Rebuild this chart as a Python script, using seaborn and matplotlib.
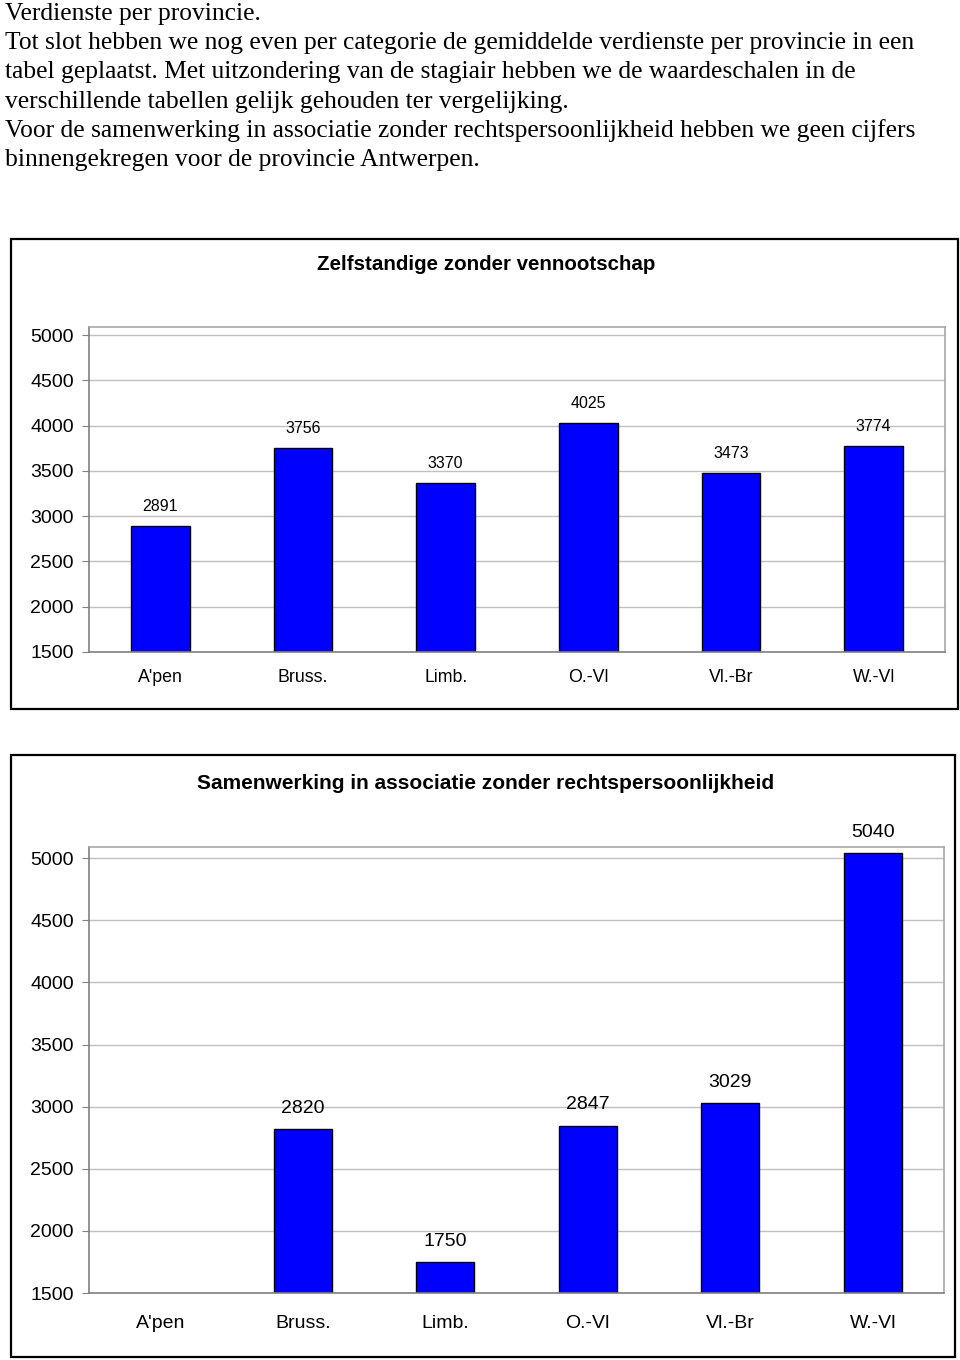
import numpy as np
import pandas as pd
import matplotlib
matplotlib.use("Agg")
import matplotlib.pyplot as plt
from matplotlib.patches import Rectangle
import seaborn as sns

# ---- data ----
provinces = ["A'pen", "Bruss.", "Limb.", "O.-Vl", "Vl.-Br", "W.-Vl"]
zelfstandige = [2891, 3756, 3370, 4025, 3473, 3774]
samenwerking = [np.nan, 2820, 1750, 2847, 3029, 5040]
yticks_vals = [1500, 2000, 2500, 3000, 3500, 4000, 4500, 5000]
title1 = "Zelfstandige zonder vennootschap"
title2 = "Samenwerking in associatie zonder rechtspersoonlijkheid"
intro_lines = [
    "Verdienste per provincie.",
    "Tot slot hebben we nog even per categorie de gemiddelde verdienste per provincie in een",
    "tabel geplaatst. Met uitzondering van de stagiair hebben we de waardeschalen in de",
    "verschillende tabellen gelijk gehouden ter vergelijking.",
    "Voor de samenwerking in associatie zonder rechtspersoonlijkheid hebben we geen cijfers",
    "binnengekregen voor de provincie Antwerpen.",
]

sns.set_style("white")
plt.rcParams["font.family"] = ["Liberation Sans", "DejaVu Sans"]
plt.rcParams["text.color"] = "black"
plt.rcParams["xtick.labelcolor"] = "black"
plt.rcParams["ytick.labelcolor"] = "black"

W, H = 960, 1360
fig = plt.figure(figsize=(W / 100, H / 100), dpi=100)

def fx(px):
    return px / W

def fy(py):
    return 1 - py / H

# intro text
for i, line in enumerate(intro_lines):
    fig.text(fx(5), fy(20 + 29.2 * i), line, family=["Liberation Serif", "DejaVu Serif"],
             fontsize=18.4, va="baseline", ha="left", color="black")

# chart boxes
fig.patches.append(Rectangle((fx(11), fy(709)), fx(958) - fx(11), fy(239) - fy(709),
                             transform=fig.transFigure, fill=False, edgecolor="black", lw=1.6))
fig.patches.append(Rectangle((fx(11), fy(1357)), fx(955) - fx(11), fy(755) - fy(1357),
                             transform=fig.transFigure, fill=False, edgecolor="black", lw=1.6))


def draw(ax, values, tick_fs, cat_fs, val_fs, val_off, cat_pad):
    df = pd.DataFrame({"prov": provinces, "val": values})
    sns.barplot(data=df, x="prov", y="val", order=provinces, color="#0000FF",
                edgecolor="black", linewidth=1.0, width=0.41, errorbar=None,
                saturation=1, ax=ax)
    ax.set_ylim(1500, 5090)
    ax.set_xlim(-0.5, len(provinces) - 0.5)
    ax.set_yticks(yticks_vals)
    ax.set_yticklabels([str(v) for v in yticks_vals], fontsize=tick_fs, color="black")
    ax.yaxis.grid(True, color="#c0c0c0", lw=1.0)
    ax.set_axisbelow(True)
    ax.set_xlabel("")
    ax.set_ylabel("")
    ax.set_xticks(range(len(provinces)))
    ax.set_xticklabels(provinces, fontsize=cat_fs, color="black")
    ax.set_xticks(np.arange(-0.5, len(provinces), 1), minor=True)
    ax.tick_params(axis="x", which="major", length=0, pad=cat_pad)
    ax.tick_params(axis="x", which="minor", length=5, color="#808080", direction="out")
    ax.tick_params(axis="y", length=5, color="#808080", direction="out", pad=6, left=True)
    for s in ["left", "bottom"]:
        ax.spines[s].set_color("#808080")
        ax.spines[s].set_linewidth(1.2)
    for s in ["top", "right"]:
        ax.spines[s].set_color("#a8a8a8")
        ax.spines[s].set_linewidth(1.2)
    for i, v in enumerate(values):
        if not np.isnan(v):
            ax.annotate(f"{int(v)}", (i, v), xytext=(0, val_off), textcoords="offset points",
                        ha="center", va="center", fontsize=val_fs, color="black")


ax1 = fig.add_axes([fx(89), fy(652), fx(945) - fx(89), fy(327) - fy(652)])
draw(ax1, zelfstandige, 14, 12.8, 11.5, 14, 12)
fig.text(fx(486), fy(265), title1, ha="center", va="center", fontsize=14.8,
         fontweight="bold", color="black")

ax2 = fig.add_axes([fx(89), fy(1293), fx(944) - fx(89), fy(847) - fy(1293)])
draw(ax2, samenwerking, 14, 14, 14, 15, 15.5)
fig.text(fx(486), fy(784), title2, ha="center", va="center", fontsize=15,
         fontweight="bold", color="black")

fig.savefig("out.png", dpi=100)
